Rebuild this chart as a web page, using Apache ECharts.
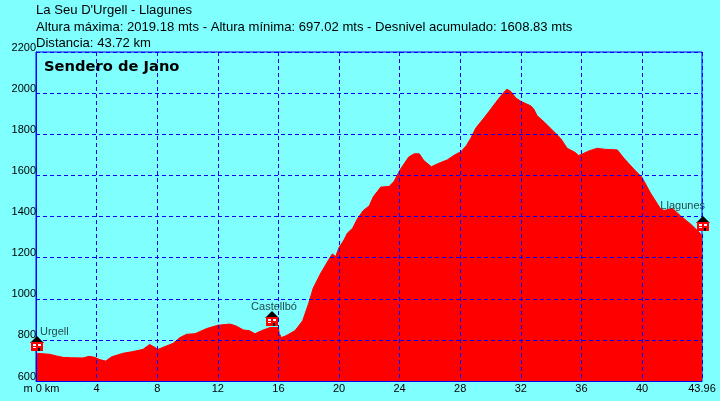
<!DOCTYPE html>
<html>
<head>
<meta charset="utf-8">
<style>
    html, body { margin: 0; padding: 0; background: #80ffff; }
    #chart { width: 720px; height: 401px; }
</style>
<script src="https://cdn.jsdelivr.net/npm/echarts@6/dist/echarts.min.js"></script>
</head>
<body>
<div id="chart"></div>
<script>
const headerLines = [
    'La Seu D\'Urgell - Llagunes',
    'Altura máxima: 2019.18 mts - Altura mínima: 697.02 mts - Desnivel acumulado: 1608.83 mts',
    'Distancia: 43.72 km',
];
const routeName = 'Sendero de Jano';

const km = [
    0, 0.9, 1.34, 1.78, 2.33, 3.1, 3.5, 3.88, 4.2, 4.6, 5, 5.75, 6.4, 7.07, 7.5, 8.06, 8.6, 9.05, 9.5, 9.93,
    10.5, 11.26, 12, 12.8, 13.2, 13.7, 14.07, 14.45, 14.9, 15.44, 16, 16.05, 16.2, 16.5, 17.1, 17.6, 18, 18.3, 18.8, 19.4,
    19.56, 19.78, 20, 20.33, 20.55, 20.9, 21.2, 21.6, 22, 22.27, 22.53, 22.75, 23.3, 23.63, 24.03, 24.6, 24.96, 25.3, 25.6, 26.1,
    26.5, 27.16, 27.6, 28.06, 28.4, 28.7, 29.03, 29.47, 29.9, 30.35, 30.8, 31.08, 31.34, 31.67, 32.03, 32.66, 32.86, 33.08, 33.63, 34.18,
    34.62, 35.06, 35.6, 35.8, 36, 36.5, 37.04, 37.5, 38.37, 38.8, 39.47, 40, 40.57, 41.2, 41.45, 42, 42.55, 43.2, 43.87, 43.96,
];
const altitude = [
    735, 730, 722, 715, 713, 712, 720, 715, 704, 697, 718, 735, 743, 754, 778, 754, 770, 783, 811, 827,
    830, 855, 871, 877, 868, 848, 845, 830, 845, 860, 860, 832, 811, 820, 845, 893, 978, 1052, 1125, 1200,
    1218, 1205, 1249, 1286, 1319, 1343, 1387, 1429, 1452, 1497, 1521, 1543, 1546, 1570, 1627, 1689, 1705, 1705, 1672, 1642,
    1656, 1676, 1698, 1716, 1744, 1781, 1830, 1870, 1911, 1955, 1997, 2019, 2008, 1976, 1959, 1938, 1922, 1890, 1854, 1813,
    1781, 1732, 1711, 1697, 1702, 1719, 1732, 1727, 1724, 1684, 1630, 1590, 1513, 1440, 1429, 1440, 1403, 1364, 1316, 1300,
];

const hutNames = ['Urgell', 'Castellbó', 'Llagunes'];
const hutKm = [0.05, 15.6, 44];
const hutAltitude = [746, 868, 1330];

const totalKm = 43.96;

// little house with a label, drawn around its point
const renderHut = (params, api) => {
    const [x, y] = api.coord([api.value(0), api.value(1)]);
    const px = Math.round(x);
    const py = Math.round(y);
    const align = ['left', 'center', 'right'][params.dataIndex];
    const labelX = px + [3, 2, 2][params.dataIndex];
    const labelY = py - [19, 19, 25][params.dataIndex];
    return {
        type: 'group',
        children: [
            {type: 'polygon', shape: {points: [[px - 7, py - 8], [px, py - 15], [px + 7, py - 8]]}, style: {fill: '#000'}},
            {type: 'rect', shape: {x: px - 6, y: py - 9, width: 12, height: 9}, style: {fill: '#f00'}},
            {type: 'rect', shape: {x: px - 4, y: py - 7, width: 3, height: 2}, style: {fill: '#fff'}},
            {type: 'rect', shape: {x: px + 1, y: py - 7, width: 3, height: 2}, style: {fill: '#fff'}},
            {type: 'rect', shape: {x: px - 4, y: py - 4, width: 3, height: 1}, style: {fill: '#fff'}},
            {type: 'rect', shape: {x: px + 1, y: py - 3, width: 2, height: 3}, style: {fill: '#000'}},
            {
                type: 'text',
                style: {
                    x: labelX,
                    y: labelY,
                    text: hutNames[params.dataIndex],
                    fill: '#1f4a4a',
                    font: '11px "Liberation Sans"',
                    align,
                    verticalAlign: 'middle',
                },
            },
        ],
    };
};

const chart = echarts.init(document.getElementById('chart'));
chart.setOption({
    animation: false,
    backgroundColor: '#80ffff',
    textStyle: {fontFamily: '"Liberation Sans"'},
    title: [
        ...headerLines.map((text, i) => ({
            text,
            left: 36,
            top: [3, 20, 36][i],
            padding: 0,
            textStyle: {fontSize: 13.1, fontWeight: 'normal', color: '#000', fontFamily: '"Liberation Sans"', lineHeight: 15},
        })),
        {
            text: routeName,
            left: 44,
            top: 59,
            padding: 0,
            textStyle: {fontSize: 14.7, fontWeight: 'bold', color: '#000', fontFamily: '"DejaVu Sans"', lineHeight: 16},
        },
    ],
    grid: {left: 36, right: 18, top: 52, bottom: 20, show: true, borderColor: '#0000ff', borderWidth: 1, backgroundColor: 'transparent'},
    xAxis: {
        type: 'value',
        min: 0,
        max: totalKm,
        interval: 4,
        z: 3,
        axisLine: {show: true, onZero: false, lineStyle: {color: '#0000ff', width: 1}},
        axisTick: {show: false},
        splitLine: {show: true, lineStyle: {color: '#0000ff', width: 1, type: [4, 3]}},
        axisLabel: {
            color: '#000',
            fontSize: 11,
            margin: 2,
            showMinLabel: true,
            showMaxLabel: true,
            hideOverlap: false,
            formatter: (v) => (v === 0 ? '{first|m 0 km}' : String(v)),
            rich: {first: {fontSize: 11, color: '#000', padding: [0, 0, 0, 11]}},
        },
    },
    yAxis: {
        type: 'value',
        min: 600,
        max: 2200,
        interval: 200,
        z: 3,
        axisLine: {show: true, lineStyle: {color: '#0000ff', width: 1}},
        axisTick: {show: false},
        splitLine: {show: true, lineStyle: {color: '#0000ff', width: 1, type: [4, 3]}},
        axisLabel: {color: '#000', fontSize: 11, margin: 0, verticalAlign: 'bottom', lineHeight: 9, formatter: (v) => String(v)},
    },
    series: [
        {
            type: 'line',
            z: 1,
            symbol: 'none',
            silent: true,
            lineStyle: {color: '#ff0000', width: 1},
            areaStyle: {color: '#ff0000', opacity: 1},
            data: km.map((k, i) => [k, altitude[i]]),
        },
        {
            type: 'custom',
            z: 5,
            silent: true,
            clip: false,
            renderItem: renderHut,
            data: hutKm.map((k, i) => [k, hutAltitude[i]]),
        },
    ],
});
</script>
</body>
</html>
